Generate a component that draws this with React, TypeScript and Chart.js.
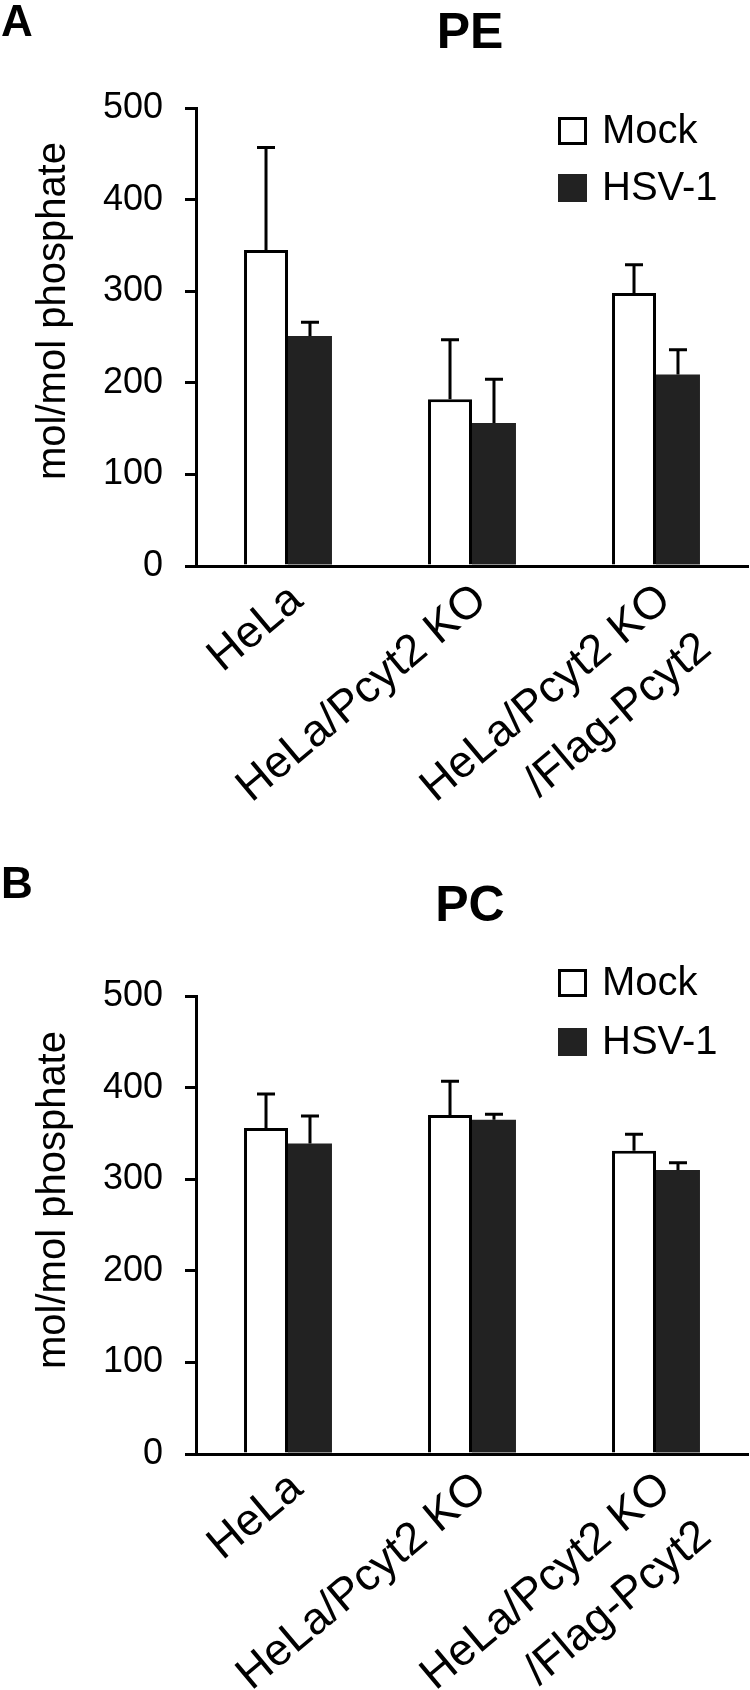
import React, { useEffect, useRef } from "react";
import { Chart, registerables } from "chart.js";

Chart.register(...registerables);

// ---------- data ----------
const categories: (string | string[])[] = [
  "HeLa",
  "HeLa/Pcyt2 KO",
  ["HeLa/Pcyt2 KO", "/Flag-Pcyt2"],
];
const seriesNames = ["Mock", "HSV-1"];
const yTickValues = [0, 100, 200, 300, 400, 500];

const peMock = [345, 182, 298];
const peMockErr = [112, 65, 31];
const peHsv = [251, 156, 209];
const peHsvErr = [15, 48, 27];

const pcMock = [356, 370, 331];
const pcMockErr = [37, 37, 18];
const pcHsv = [339, 365, 310];
const pcHsvErr = [30, 6, 8];

// ---------- styling / layout ----------
const FAMILY = "'Liberation Sans', Arial, Helvetica, sans-serif";
const CANVAS_W = 750;
const CANVAS_H = 845;
const MOCK_FILL = "#ffffff";
const HSV_FILL = "#222222";
const INK = "#000000";

type PanelLayout = {
  letter: string;
  title: string;
  areaTop: number;
  areaBottom: number;
  letterSize: number;
  letterBaseline: number;
  titleBaseline: number;
  yTitleCenter: number;
  legendTops: number[];
};

const layoutA: PanelLayout = {
  letter: "A",
  title: "PE",
  areaTop: 108,
  areaBottom: 566,
  letterSize: 44,
  letterBaseline: 36,
  titleBaseline: 48,
  yTitleCenter: 311,
  legendTops: [117, 174],
};

const layoutB: PanelLayout = {
  letter: "B",
  title: "PC",
  areaTop: 151,
  areaBottom: 609,
  letterSize: 44,
  letterBaseline: 53,
  titleBaseline: 76,
  yTitleCenter: 355,
  legendTops: [124, 183],
};

function makeErrorBarPlugin() {
  return {
    id: "errorBars",
    afterDatasetsDraw(chart: any) {
      const ctx = chart.ctx;
      const yScale = chart.scales.y;
      ctx.save();
      ctx.strokeStyle = INK;
      ctx.lineWidth = 3;
      ctx.lineCap = "butt";
      chart.data.datasets.forEach((ds: any, i: number) => {
        const meta = chart.getDatasetMeta(i);
        meta.data.forEach((bar: any, j: number) => {
          const v = ds.data[j];
          const e = ds.errors[j];
          const yTop = yScale.getPixelForValue(v + e);
          const yBar = yScale.getPixelForValue(v);
          ctx.beginPath();
          ctx.moveTo(bar.x, yBar);
          ctx.lineTo(bar.x, yTop);
          ctx.moveTo(bar.x - 9, yTop);
          ctx.lineTo(bar.x + 9, yTop);
          ctx.stroke();
        });
      });
      ctx.restore();
    },
  };
}

function makeDecorPlugin(L: PanelLayout) {
  return {
    id: "decor",
    afterDraw(chart: any) {
      const ctx = chart.ctx;
      const area = chart.chartArea;
      ctx.save();
      ctx.fillStyle = INK;
      // panel letter
      ctx.font = `bold ${L.letterSize}px ${FAMILY}`;
      ctx.textAlign = "left";
      ctx.textBaseline = "alphabetic";
      ctx.fillText(L.letter, 1, L.letterBaseline);
      // panel title
      ctx.font = `bold 50px ${FAMILY}`;
      ctx.textAlign = "center";
      ctx.fillText(L.title, (area.left + area.right) / 2 - 2, L.titleBaseline);
      // y-axis title
      ctx.save();
      ctx.translate(65, L.yTitleCenter);
      ctx.rotate(-Math.PI / 2);
      ctx.font = `40px ${FAMILY}`;
      ctx.textAlign = "center";
      ctx.textBaseline = "alphabetic";
      ctx.fillText("mol/mol phosphate", 0, 0);
      ctx.restore();
      // legend
      chart.data.datasets.forEach((ds: any, i: number) => {
        const top = L.legendTops[i];
        const bx = 558;
        const bw = 29;
        const bh = 28;
        ctx.fillStyle = ds.backgroundColor;
        ctx.fillRect(bx, top, bw, bh);
        if (ds.borderWidth > 0) {
          ctx.strokeStyle = ds.borderColor;
          ctx.lineWidth = 3;
          ctx.strokeRect(bx + 1.5, top + 1.5, bw - 3, bh - 3);
        }
        ctx.fillStyle = INK;
        ctx.font = `40px ${FAMILY}`;
        ctx.textAlign = "left";
        ctx.textBaseline = "middle";
        ctx.fillText(ds.label, 602, top + bh / 2 + 1);
      });
      ctx.restore();
    },
  };
}

function Panel(props: {
  layout: PanelLayout;
  mock: number[];
  mockErr: number[];
  hsv: number[];
  hsvErr: number[];
}) {
  const ref = useRef<HTMLCanvasElement | null>(null);
  useEffect(() => {
    const L = props.layout;
    const chart = new Chart(ref.current as HTMLCanvasElement, {
      type: "bar",
      data: {
        labels: categories as any,
        datasets: [
          {
            label: seriesNames[0],
            data: props.mock,
            errors: props.mockErr,
            backgroundColor: MOCK_FILL,
            borderColor: INK,
            borderWidth: 3,
            borderSkipped: "start",
            categoryPercentage: 0.478,
            barPercentage: 1.0,
          } as any,
          {
            label: seriesNames[1],
            data: props.hsv,
            errors: props.hsvErr,
            backgroundColor: HSV_FILL,
            borderColor: HSV_FILL,
            borderWidth: 0,
            categoryPercentage: 0.478,
            barPercentage: 1.0,
          } as any,
        ],
      },
      options: {
        animation: false,
        responsive: false,
        devicePixelRatio: 1,
        layout: {
          padding: { top: L.areaTop, right: 2, bottom: 0, left: 0 },
        },
        plugins: {
          legend: { display: false },
          title: { display: false },
          tooltip: { enabled: false },
        },
        scales: {
          x: {
            type: "category",
            offset: true,
            grid: { display: false },
            border: { display: true, color: INK, width: 3 },
            ticks: {
              color: INK,
              font: { family: FAMILY, size: 45, lineHeight: 1.4 },
              minRotation: 40,
              maxRotation: 40,
              autoSkip: false,
              padding: -4,
              labelOffset: 9,
            },
            afterFit: (scale: any) => {
              scale.height = CANVAS_H - L.areaBottom;
            },
          },
          y: {
            type: "linear",
            min: 0,
            max: 500,
            afterBuildTicks: (scale: any) => {
              scale.ticks = yTickValues.map((v) => ({ value: v }));
            },
            grid: {
              drawOnChartArea: false,
              drawTicks: true,
              tickLength: 11,
              color: INK,
              lineWidth: 3,
            },
            border: { display: true, color: INK, width: 3 },
            ticks: {
              color: INK,
              font: { family: FAMILY, size: 36 },
              padding: 22,
            },
            afterFit: (scale: any) => {
              scale.width = 196;
            },
          },
        },
      },
      plugins: [makeErrorBarPlugin(), makeDecorPlugin(L)],
    } as any);
    return () => chart.destroy();
  }, []);
  return (
    <canvas
      ref={ref}
      width={CANVAS_W}
      height={CANVAS_H}
      style={{ display: "block", width: CANVAS_W, height: CANVAS_H }}
    />
  );
}

export default function App() {
  return (
    <div
      style={{
        position: "absolute",
        left: 0,
        top: 0,
        width: 750,
        height: 1690,
        background: "#ffffff",
      }}
    >
      <Panel layout={layoutA} mock={peMock} mockErr={peMockErr} hsv={peHsv} hsvErr={peHsvErr} />
      <Panel layout={layoutB} mock={pcMock} mockErr={pcMockErr} hsv={pcHsv} hsvErr={pcHsvErr} />
    </div>
  );
}
